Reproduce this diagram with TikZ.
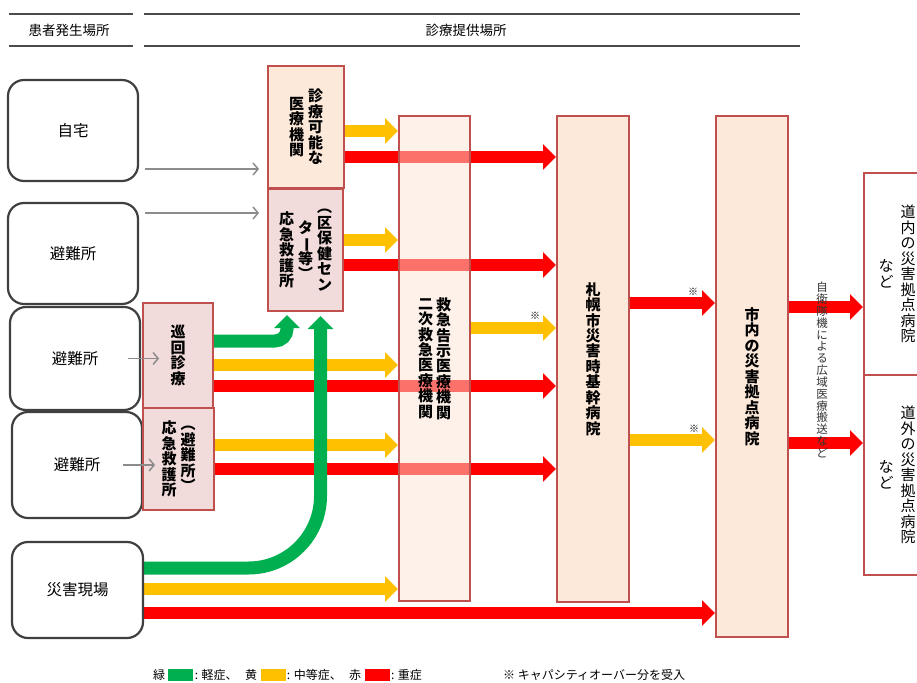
\documentclass[tikz,border=0pt]{standalone}
\usepackage{graphicx}
\usepackage{fontspec}
\setmainfont{Noto Sans CJK JP}
\usetikzlibrary{arrows.meta,positioning}

\definecolor{boxred}{HTML}{C0504D}
\definecolor{aidpink}{HTML}{F2DCDB}
\definecolor{hosppeach}{HTML}{FDE9D9}
\definecolor{emergfill}{HTML}{FBE4D5}
\definecolor{mildgreen}{HTML}{00B050}
\definecolor{modyellow}{HTML}{FFC000}
\definecolor{sevred}{HTML}{FF0000}

\pgfdeclarelayer{flows}
\pgfsetlayers{flows,main}

% one column of vertical text, rows one character apart
\newcommand{\tcol}[1]{$\vcenter{\let\\\cr\baselineskip=1.03em\lineskiplimit=-\maxdimen
  \halign{\hfil##\hfil\cr#1\crcr}}$}
\newcommand{\vbar}{\rotatebox[origin=c]{-90}{ー}}

\begin{document}
\begin{tikzpicture}[x=1pt, y=-1pt,
    place/.style={draw=black!75, line width=2.2pt, rounded corners=16pt, fill=white,
      minimum width=130pt, font=\fontsize{15.5}{17}\selectfont},
    aidbox/.style={draw=boxred, line width=2pt, fill=aidpink, inner sep=0pt,
      font=\bfseries\fontsize{15}{15.5}\selectfont},
    hospbox/.style={draw=boxred, line width=2pt, fill=hosppeach, inner sep=0pt,
      font=\bfseries\fontsize{15}{15.5}\selectfont},
    farbox/.style={draw=boxred, line width=2pt, fill=white, inner sep=0pt,
      minimum width=66pt, font=\fontsize{15}{15.5}\selectfont},
    walkin/.style={draw=black!45, line width=1.5pt, -{Straight Barb[length=5pt,width=12pt]}},
    mild/.style={draw=mildgreen, line width=13pt, -{Triangle[width=25pt,length=13pt]}},
    moderate/.style={draw=modyellow, line width=12pt, -{Triangle[width=25pt,length=13pt]}},
    severe/.style={draw=sevred, line width=12pt, -{Triangle[width=25pt,length=13pt]}},
    header/.style={draw=black!70, line width=1.5pt},
    note/.style={font=\fontsize{10}{10}\selectfont, inner sep=0pt},
    legend/.style={font=\fontsize{12}{12}\selectfont, inner sep=0pt},
    swatch/.style={minimum width=25pt, minimum height=12pt, inner sep=0pt}]
  \useasboundingbox (0,0) rectangle (917,682);

  % header
  \draw[header] (9,14) -- (133,14);
  \draw[header] (9,46) -- (133,46);
  \draw[header] (144,14) -- (800,14);
  \draw[header] (144,46) -- (800,46);
  \node[font=\fontsize{13.5}{14}\selectfont] (origin) at (69,30) {患者発生場所};
  \node[font=\fontsize{13.5}{14}\selectfont] (care) at (466,30) {診療提供場所};

  % where patients are
  \node[place, minimum height=101pt] (home) at (73,130.5) {自宅};
  \node[place, minimum height=101pt] (shelterA) at (73,253.5) {避難所};
  \node[place, minimum height=103pt] (shelterB) at (75,358.5) {避難所};
  \node[place, minimum height=106pt] (shelterC) at (77,465) {避難所};
  \node[place, minimum width=131pt, minimum height=96pt] (site) at (77.5,590) {災害現場};

  % first aid
  \node[hospbox, minimum width=76pt, minimum height=122pt] (clinic) at (306,127)
    {\tcol{医\\療\\機\\関}\hspace{4pt}\tcol{診\\療\\可\\能\\な}};
  \node[aidbox, minimum width=75pt, minimum height=122pt] (wardaid) at (305.5,250)
    {\tcol{応\\急\\救\\護\\所}\hspace{4pt}\tcol{タ\\\vbar\\等\\︶}\hspace{4pt}\tcol{︵\\区\\保\\健\\セ\\ン}};
  \node[aidbox, minimum width=70pt, minimum height=105pt] (patrol) at (178,355.5)
    {\tcol{巡\\回\\診\\療}};
  \node[aidbox, minimum width=71pt, minimum height=102pt] (shelteraid) at (178.5,459)
    {\tcol{応\\急\\救\\護\\所}\hspace{4pt}\tcol{︵\\避\\難\\所\\︶}};

  % hospitals
  \node[hospbox, fill=emergfill, fill opacity=0.5, text opacity=1,
    minimum width=71pt, minimum height=485pt] (emerg) at (434.5,358.5)
    {\tcol{二\\次\\救\\急\\医\\療\\機\\関}\hspace{3pt}\tcol{救\\急\\告\\示\\医\\療\\機\\関}};
  \node[hospbox, minimum width=72pt, minimum height=486pt] (core) at (593,359)
    {\tcol{札\\幌\\市\\災\\害\\時\\基\\幹\\病\\院}};
  \node[hospbox, minimum width=72pt, minimum height=521pt] (base) at (752,376.5)
    {\tcol{市\\内\\の\\災\\害\\拠\\点\\病\\院}};
  \node[farbox, minimum height=202pt] (inhok) at (897,274)
    {\tcol{な\\ど}\hspace{7pt}\tcol{道\\内\\の\\災\\害\\拠\\点\\病\\院}};
  \node[farbox, minimum height=200pt] (outhok) at (897,475)
    {\tcol{な\\ど}\hspace{7pt}\tcol{道\\外\\の\\災\\害\\拠\\点\\病\\院}};

  % flows of patients
  \begin{pgfonlayer}{flows}
    \draw[moderate] (clinic.east |- 0,131) -- (emerg.west |- 0,131);
    \draw[severe] (clinic.east |- 0,157) -- (core.west |- 0,157);
    \draw[moderate] (wardaid.east |- 0,240) -- (emerg.west |- 0,240);
    \draw[severe] (wardaid.east |- 0,265) -- (core.west |- 0,265);
    \draw[moderate] (patrol.east |- 0,365) -- (emerg.west |- 0,365);
    \draw[severe] (patrol.east |- 0,386) -- (core.west |- 0,386);
    \draw[moderate] (shelteraid.east |- 0,445) -- (emerg.west |- 0,445);
    \draw[severe] (shelteraid.east |- 0,469) -- (core.west |- 0,469);
    \draw[moderate] (site.east |- 0,589) -- (emerg.west |- 0,589);
    \draw[severe] (site.east |- 0,613) -- (base.west |- 0,613);
    \draw[moderate] (emerg.east |- 0,328) -- (core.west |- 0,328);
    \draw[severe] (core.east |- 0,303) -- (base.west |- 0,303);
    \draw[moderate] (core.east |- 0,440) -- (base.west |- 0,440);
    \draw[severe] (base.east |- 0,307) -- (inhok.west |- 0,307);
    \draw[severe] (base.east |- 0,443) -- (outhok.west |- 0,443);
    \draw[mild, rounded corners=12pt, shorten >=3pt] (patrol.east |- 0,341) -| ([xshift=-18.5pt]wardaid.south);
    \draw[mild, rounded corners=72pt, shorten >=4pt] (site.east |- 0,568) -| ([xshift=15pt]wardaid.south);
  \end{pgfonlayer}

  % walk-ins
  \draw[walkin, shorten <=6pt, shorten >=8pt] (home.east |- 0,169) -- (clinic.west |- 0,169);
  \draw[walkin, shorten <=6pt, shorten >=8pt] (shelterA.east |- 0,213) -- (wardaid.west |- 0,213);
  \draw[walkin] ([xshift=-13pt]shelterB.east) -- ([xshift=18pt]shelterB.east);
  \draw[walkin] ([xshift=-20pt]shelterC.east) -- ([xshift=12pt]shelterC.east);

  \node[note] (noteA) at (535,316) {※};
  \node[note] (noteB) at (693,292) {※};
  \node[note] (noteC) at (694,429) {※};
  \node[font=\fontsize{11.5}{12}\selectfont, text=black!80, inner sep=0pt] (airlift) at (822,370)
    {\tcol{自\\衛\\隊\\機\\に\\よ\\る\\広\\域\\医\\療\\搬\\送\\な\\ど}};

  % legend
  \node[legend] (lgGreen) at (159,675) {緑};
  \node[swatch, fill=mildgreen, right=3pt of lgGreen] (swGreen) {};
  \node[legend, right=1pt of swGreen] (txGreen) {: 軽症、};
  \node[legend, right=7pt of txGreen] (lgYellow) {黄};
  \node[swatch, fill=modyellow, right=3pt of lgYellow] (swYellow) {};
  \node[legend, right=1pt of swYellow] (txYellow) {: 中等症、};
  \node[legend, right=7pt of txYellow] (lgRed) {赤};
  \node[swatch, fill=sevred, right=3pt of lgRed] (swRed) {};
  \node[legend, right=1pt of swRed] (txRed) {: 重症};
  \node[legend, anchor=west] (overflow) at (503,675) {※ キャパシティオーバー分を受入};
\end{tikzpicture}
\end{document}
